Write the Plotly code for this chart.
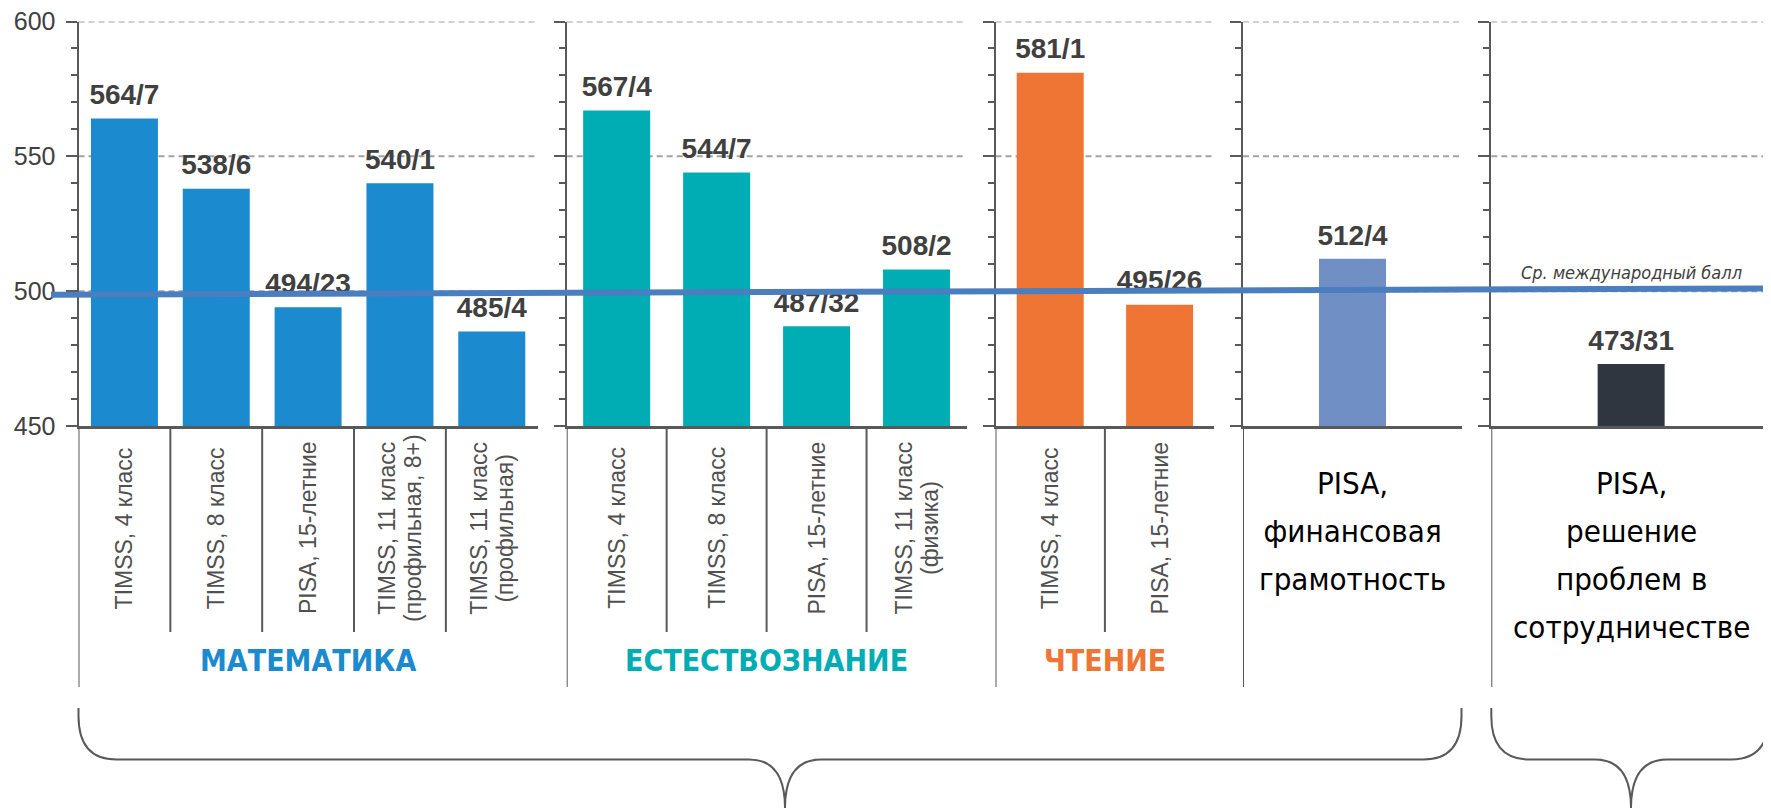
import plotly.graph_objects as go

# ---------------- data ----------------
math_cats = ["TIMSS, 4 класс", "TIMSS, 8 класс", "PISA, 15-летние",
             "TIMSS, 11 класс<br>(профильная, 8+)", "TIMSS, 11 класс<br>(профильная)"]
math_scores = [564, 538, 494, 540, 485]
math_ranks = [7, 6, 23, 1, 4]

sci_cats = ["TIMSS, 4 класс", "TIMSS, 8 класс", "PISA, 15-летние",
            "TIMSS, 11 класс<br>(физика)"]
sci_scores = [567, 544, 487, 508]
sci_ranks = [4, 7, 32, 2]

read_cats = ["TIMSS, 4 класс", "PISA, 15-летние"]
read_scores = [581, 495]
read_ranks = [1, 26]

fin_cats = ["PISA,<br>финансовая<br>грамотность"]
fin_scores = [512]
fin_ranks = [4]

collab_cats = ["PISA,<br>решение<br>проблем в<br>сотрудничестве"]
collab_scores = [473]
collab_ranks = [31]

group_titles = ["МАТЕМАТИКА", "ЕСТЕСТВОЗНАНИЕ", "ЧТЕНИЕ", "", ""]
avg_label = "Ср. международный балл"
avg_line = [498.7, 501.0]          # international average line as drawn
y_range = [450, 600]
grid_vals = [500, 550, 600]

# ---------------- style / layout ----------------
OFF = 8                      # page body margin
FW, FH = 1771 - OFF, 808 - OFF
colors = ["#1b8acf", "#00adb5", "#ee7533", "#7090c5", "#2f3640"]
AXIS = "#595959"
TXT = "#404040"
COND = "DejaVu Sans Condensed, Liberation Sans, sans-serif"
ARIAL = "Liberation Sans, Arial, sans-serif"
# panel extents in page pixels
PANELS_PX = [(78.5, 537.7), (566.7, 966.5), (995.5, 1214.3), (1243.0, 1462.0), (1491.3, 1771.0)]
Y_TOP, Y_BOT = 21.5, 426.0
BAR_PX = 67.0


def px(p):
    return (p - OFF) / FW


def py(p):
    return 1 - (p - OFF) / FH


def lines_span(txt, size):
    return "<br>".join(f"<span style='font-size:{size}px'>{t}</span>" for t in txt.split("<br>"))


groups = [
    (math_cats, math_scores, math_ranks),
    (sci_cats, sci_scores, sci_ranks),
    (read_cats, read_scores, read_ranks),
    (fin_cats, fin_scores, fin_ranks),
    (collab_cats, collab_scores, collab_ranks),
]

fig = go.Figure()
layout_axes = {}
shapes = []
annotations = []

for i, (cats, scores, ranks) in enumerate(groups, start=1):
    sfx = "" if i == 1 else str(i)
    xa, ya = "x" + sfx, "y" + sfx
    n = len(cats)
    x0p, x1p = PANELS_PX[i - 1]
    width = BAR_PX * n / (min(x1p, 1771) - x0p)
    fig.add_trace(go.Bar(x=cats, y=scores, width=width, marker_color=colors[i - 1],
                         marker_line_width=0, xaxis=xa, yaxis=ya,
                         hoverinfo="skip", showlegend=False))
    fig.add_trace(go.Scatter(x=cats, y=scores, mode="markers+text",
                             text=[f"<b>{s}/{r}</b>" for s, r in zip(scores, ranks)],
                             textposition="top center",
                             marker=dict(size=10, color="rgba(0,0,0,0)"),
                             textfont=dict(family=ARIAL, size=28, color=TXT),
                             cliponaxis=False, xaxis=xa, yaxis=ya,
                             hoverinfo="skip", showlegend=False))
    layout_axes["xaxis" + sfx] = dict(
        domain=[px(x0p), min(px(x1p), 1.0)], anchor=ya, type="category",
        range=[-0.5, n - 0.5], showline=True, linecolor=AXIS, linewidth=2.5,
        ticks="", showticklabels=False, showgrid=False, zeroline=False,
        automargin=False, fixedrange=True)
    layout_axes["yaxis" + sfx] = dict(
        domain=[py(Y_BOT), py(Y_TOP)], anchor=xa, range=y_range,
        tickmode="linear", tick0=450, dtick=50,
        ticks="outside", ticklen=11, tickwidth=2, tickcolor=AXIS,
        showline=True, linecolor=AXIS, linewidth=2,
        showgrid=False, zeroline=False, showticklabels=(i == 1),
        tickfont=dict(family=ARIAL, size=25, color=TXT), ticklabelstandoff=5,
        ticklabeloverflow="allow",
        minor=dict(dtick=10, tick0=450, ticks="outside", ticklen=6, tickwidth=1.5,
                   tickcolor=AXIS, showgrid=False),
        automargin=False, fixedrange=True)

    # dashed gridlines
    for g in grid_vals:
        shapes.append(dict(type="line", xref=xa + " domain", yref=ya, x0=0, x1=1,
                           y0=g, y1=g, layer="below",
                           line=dict(color="#a3a3a3", width=2, dash="6px,4px")))
    # panel axis extension downward
    shapes.append(dict(type="line", xref=xa, yref="paper", x0=-0.5, x1=-0.5,
                       y0=py(Y_BOT), y1=py(687), line=dict(color=AXIS, width=2)))
    if i <= 3:
        for k in range(1, n):
            shapes.append(dict(type="line", xref=xa, yref="paper", x0=k - 0.5, x1=k - 0.5,
                               y0=py(Y_BOT), y1=py(632), line=dict(color=AXIS, width=2)))
        for c in cats:
            annotations.append(dict(xref=xa, yref="paper", x=c, y=py(528),
                                    text=lines_span(c, 23),
                                    textangle=-90, showarrow=False, align="center",
                                    xanchor="center", yanchor="middle",
                                    font=dict(family=ARIAL, size=20, color="#505050")))
        annotations.append(dict(xref=xa + " domain", yref="paper", x=0.5, y=py(660),
                                text=f"<b>{group_titles[i-1]}</b>", showarrow=False,
                                xanchor="center", yanchor="middle",
                                font=dict(family=COND, size=30, color=colors[i - 1])))
    else:
        annotations.append(dict(xref=xa, yref="paper", x=cats[0], y=py(463),
                                text=lines_span(cats[0], 31),
                                showarrow=False, align="center", xanchor="center",
                                yanchor="top",
                                font=dict(family=COND, size=37, color="#000000")))

# international average line (over bars and labels)
shapes.append(dict(type="line", xref="paper", yref="y", x0=px(51), x1=1,
                   y0=avg_line[0], y1=avg_line[1], layer="above",
                   line=dict(color="#4a7ebf", width=6)))
annotations.append(dict(xref="x5", yref="y5", x=collab_cats[0], y=avg_line[1],
                        text=f"<i>{avg_label}</i>", showarrow=False, yanchor="bottom",
                        xanchor="center", yshift=3,
                        font=dict(family=COND, size=18, color=TXT)))


# braces
def brace(xl, xr, tip, ytop=708, ybar=759.5, ybot=808, r=38):
    pts = [
        f"M {px(xl)},{py(ytop)}",
        f"L {px(xl)},{py(ytop + 8)}",
        f"Q {px(xl)},{py(ybar)} {px(xl + r)},{py(ybar)}",
        f"L {px(tip - 36)},{py(ybar)}",
        f"Q {px(tip)},{py(ybar)} {px(tip)},{py(ybot)}",
        f"Q {px(tip)},{py(ybar)} {px(tip + 36)},{py(ybar)}",
        f"L {px(xr - r)},{py(ybar)}",
        f"Q {px(xr)},{py(ybar)} {px(xr)},{py(ytop + 8)}",
        f"L {px(xr)},{py(ytop)}",
    ]
    return dict(type="path", xref="paper", yref="paper", path=" ".join(pts),
                line=dict(color=AXIS, width=2))


shapes.append(brace(78.5, 1461.5, 785))
shapes.append(brace(1491.3, 1769, 1631))

fig.update_layout(
    template="none",
    width=FW, height=FH, margin=dict(l=0, r=0, t=0, b=0, pad=0),
    paper_bgcolor="white", plot_bgcolor="white",
    showlegend=False, shapes=shapes, annotations=annotations,
    font=dict(family=ARIAL, color=TXT),
    **layout_axes,
)

fig.write_html("out.html")
